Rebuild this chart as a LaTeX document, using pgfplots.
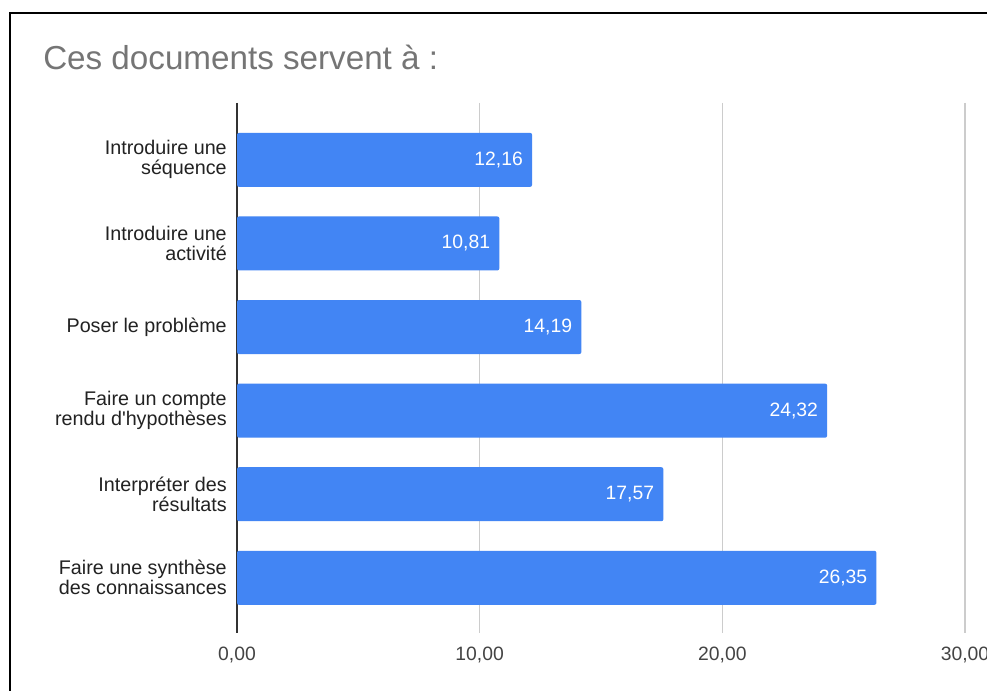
\documentclass[border=0pt]{standalone}
\usepackage{pgfplots}
\pgfplotsset{compat=1.18}
\usepackage{fontspec}
\setmainfont{Liberation Sans}
\definecolor{barblue}{HTML}{4285F4}
\definecolor{titlegray}{HTML}{757575}
\definecolor{labelgray}{HTML}{222222}
\definecolor{tickgray}{HTML}{444444}
\definecolor{gridgray}{HTML}{CCCCCC}
\begin{document}
\begin{tikzpicture}
\useasboundingbox (0,0) rectangle (740.25pt,518.25pt);
\fill[white] (0,0) rectangle (740.25pt,518.25pt);
\draw[black, line width=2pt] (7.5pt,0) -- (7.5pt,508.5pt) -- (745pt,508.5pt);
\node[anchor=base west, inner sep=0pt, text=titlegray, font=\fontsize{24.9}{28}\selectfont] at (32.25pt,465.75pt) {Ces documents servent à :};
\begin{axis}[
  at={(177.75pt,43.5pt)}, anchor=south west,
  scale only axis, width=546pt, height=397.5pt,
  xmin=0, xmax=30, ymin=-0.68, ymax=5.66, y dir=reverse,
  axis line style={draw=none},
  major tick length=0pt,
  xmajorgrids, grid style={gridgray, line width=0.9pt},
  xtick={0,10,20,30},
  xticklabels={{0,00},{10,00},{20,00},{30,00}},
  extra x ticks={0}, extra x tick labels={},
  extra x tick style={grid style={draw=black!80, line width=1.1pt}},
  xticklabel style={text=tickgray, font=\fontsize{14.5}{17}\selectfont, inner sep=0pt, anchor=north, yshift=-10pt},
  ytick={0,1,2,3,4,5},
  yticklabels={{Introduire une\\séquence},{Introduire une\\activité},{Poser le problème},{Faire un compte\\rendu d\textquotesingle hypothèses},{Interpréter des\\résultats},{Faire une synthèse\\des connaissances}},
  yticklabel style={text=labelgray, align=right, font=\fontsize{14.8}{15}\selectfont, inner sep=0pt, anchor=east, xshift=-7.5pt},
  /pgf/number format/assume math mode=true,
  nodes near coords={\pgfmathprintnumber[fixed,zerofill,precision=2,use comma]{\pgfplotspointmeta}},
  point meta=x,
  nodes near coords align={anchor=east},
  every node near coord/.append style={text=white, font=\fontsize{14.5}{17}\selectfont, inner sep=0pt, anchor=east, xshift=-6.75pt},
]
\addplot[xbar, bar width=0.646, fill=barblue, draw=none, rounded corners=1.5pt] coordinates {
  (12.16,0) (10.81,1) (14.19,2) (24.32,3) (17.57,4) (26.35,5)
};
\end{axis}
\end{tikzpicture}
\end{document}
